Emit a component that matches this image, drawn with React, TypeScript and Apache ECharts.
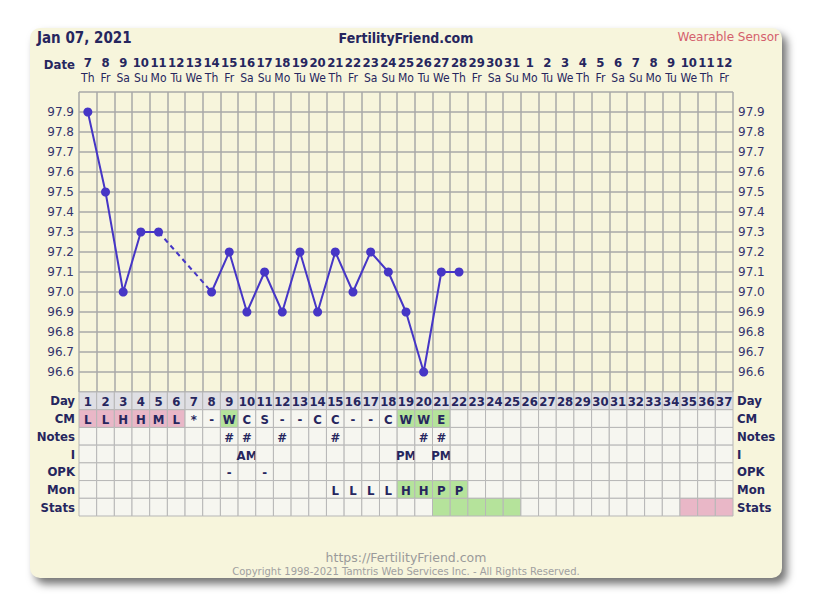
import React, { useEffect, useRef } from 'react';
import * as echarts from 'echarts';

// ---------- data ----------
const dateNums = ['7','8','9','10','11','12','13','14','15','16','17','18','19','20','21','22','23','24','25','26','27','28','29','30','31','1','2','3','4','5','6','7','8','9','10','11','12'];
const weekdays = ['Th','Fr','Sa','Su','Mo','Tu','We','Th','Fr','Sa','Su','Mo','Tu','We','Th','Fr','Sa','Su','Mo','Tu','We','Th','Fr','Sa','Su','Mo','Tu','We','Th','Fr','Sa','Su','Mo','Tu','We','Th','Fr'];
const cycleDays = ['1','2','3','4','5','6','7','8','9','10','11','12','13','14','15','16','17','18','19','20','21','22','23','24','25','26','27','28','29','30','31','32','33','34','35','36','37'];
const temps: (number | null)[] = [97.9, 97.5, 97.0, 97.3, 97.3, null, null, 97.0, 97.2, 96.9, 97.1, 96.9, 97.2, 96.9, 97.2, 97.0, 97.2, 97.1, 96.9, 96.6, 97.1, 97.1];
const yTicks = ['96.6','96.7','96.8','96.9','97.0','97.1','97.2','97.3','97.4','97.5','97.6','97.7','97.8','97.9'];

const rowNames = ['Day', 'CM', 'Notes', 'I', 'OPK', 'Mon', 'Stats'];
const cmText = ['L','L','H','H','M','L','*','-','W','C','S','-','-','C','C','-','-','C','W','W','E'];
const cmShade = ['P','P','P','P','P','P','','','G','','','','','','','','','','G','G','G'];
const notesText = ['','','','','','','','','#','#','','#','','','#','','','','','#','#'];
const intercourseText = ['','','','','','','','','','AM','','','','','','','','','PM','','PM'];
const opkText = ['','','','','','','','','-','','-'];
const monText = ['','','','','','','','','','','','','','','L','L','L','L','H','H','P','P'];
const monShade = ['','','','','','','','','','','','','','','','','','','G','G','G','G'];
const statsShade = ['','','','','','','','','','','','','','','','','','','','','G','G','G','G','G','','','','','','','','','','P','P','P'];

// ---------- style ----------
const FONT = "'DejaVu Sans Condensed', 'DejaVu Sans', Verdana, sans-serif";
const FONT_N = "'DejaVu Sans', Verdana, sans-serif";
const NAVY = '#26265e';
const LABEL = '#34346e';
const LINE = '#4636c6';
const GRIDC = '#a9a9a9';
const CARD = '#f7f5dc';
const SHADE: Record<string, string> = { P: '#e9b7c7', G: '#b5e39b' };

export default function App() {
  const ref = useRef<HTMLDivElement>(null);

  useEffect(() => {
    if (!ref.current) return;
    const chart = echarts.init(ref.current, undefined, { renderer: 'svg' });
    const n = cycleDays.length;

    const lineData = cycleDays.map((_, i) => (i < temps.length ? temps[i] : null));
    // dashed bridge over missing temperatures
    const bridge: (number | null)[] = cycleDays.map(() => null);
    let last = -1;
    lineData.forEach((v, i) => {
      if (v != null) {
        if (last >= 0 && i - last > 1) {
          bridge[last] = lineData[last];
          bridge[i] = v;
        }
        last = i;
      }
    });

    const rowsText: string[][] = [cycleDays, cmText, notesText, intercourseText, opkText, monText, []];
    const rowsShade: string[][] = [[], cmShade, [], [], [], monShade, statsShade];
    const cells: { text: string; fill: string }[] = [];
    const cellData: number[][] = [];
    rowNames.forEach((_, r) => {
      for (let d = 0; d < n; d++) {
        const t = rowsText[r][d] || '';
        const sh = rowsShade[r][d] || '';
        const fill = r === 0 ? '#dfdfe4' : sh ? SHADE[sh] : '#f6f6f0';
        cells.push({ text: t, fill });
        cellData.push([d, r]);
      }
    });

    const yLabelFmt = (v: number) => {
      const s = v.toFixed(1);
      return yTicks.indexOf(s) >= 0 ? s : '';
    };

    chart.setOption({
      animation: false,
      grid: [
        { left: 79, top: 92, width: 654, height: 300 },
        { left: 79, top: 392, width: 654, height: 124 },
      ],
      xAxis: [
        {
          type: 'category', gridIndex: 0, data: cycleDays, position: 'bottom',
          axisLine: { show: false }, axisTick: { show: false }, axisLabel: { show: false },
          splitLine: { show: true, interval: 0, lineStyle: { color: GRIDC, width: 1.5 } },
        },
        {
          type: 'category', gridIndex: 0, data: dateNums, position: 'top',
          axisLine: { show: false }, axisTick: { show: false }, splitLine: { show: false },
          axisLabel: {
            interval: 0, margin: 7,
            formatter: (v: string, i: number) => `{n|${v}}\n{w|${weekdays[i]}}`,
            rich: {
              n: { fontFamily: FONT, fontWeight: 'bold', fontSize: 13, color: NAVY, lineHeight: 15 },
              w: { fontFamily: FONT, fontSize: 12, color: NAVY, lineHeight: 15 },
            },
          },
        },
        {
          type: 'category', gridIndex: 1, data: cycleDays,
          axisLine: { show: false }, axisTick: { show: false }, axisLabel: { show: false }, splitLine: { show: false },
        },
      ],
      yAxis: [
        {
          type: 'value', gridIndex: 0, min: 96.5, max: 98.0, interval: 0.1, position: 'left',
          axisLine: { show: false }, axisTick: { show: false },
          axisLabel: { formatter: yLabelFmt, margin: 5, fontFamily: FONT_N, fontSize: 12, color: LABEL, showMinLabel: false, showMaxLabel: false },
          splitLine: { show: true, lineStyle: { color: GRIDC, width: 1.5 } },
        },
        {
          type: 'value', gridIndex: 0, min: 96.5, max: 98.0, interval: 0.1, position: 'right',
          axisLine: { show: false }, axisTick: { show: false },
          axisLabel: { formatter: yLabelFmt, margin: 5, fontFamily: FONT_N, fontSize: 12, color: LABEL, showMinLabel: false, showMaxLabel: false },
          splitLine: { show: false },
        },
        {
          type: 'category', gridIndex: 1, data: rowNames, inverse: true, position: 'left',
          axisLine: { show: false }, axisTick: { show: false }, splitLine: { show: false },
          axisLabel: { margin: 4, fontFamily: FONT, fontWeight: 'bold', fontSize: 13, color: NAVY },
        },
        {
          type: 'category', gridIndex: 1, data: rowNames, inverse: true, position: 'right',
          axisLine: { show: false }, axisTick: { show: false }, splitLine: { show: false },
          axisLabel: { margin: 4, fontFamily: FONT, fontWeight: 'bold', fontSize: 13, color: NAVY },
        },
      ],
      series: [
        {
          type: 'line', xAxisIndex: 0, yAxisIndex: 0, data: bridge, connectNulls: true,
          symbol: 'none', lineStyle: { color: LINE, width: 2, type: [5, 4] }, z: 3,
        },
        {
          type: 'line', xAxisIndex: 0, yAxisIndex: 0, data: lineData, connectNulls: false,
          symbol: 'circle', symbolSize: 9, lineStyle: { color: LINE, width: 2 }, itemStyle: { color: LINE }, z: 4,
        },
        {
          type: 'custom', xAxisIndex: 2, yAxisIndex: 2, data: cellData,
          renderItem: (params: any, api: any) => {
            const c = cells[params.dataIndex];
            const p = api.coord([api.value(0), api.value(1)]);
            const s = api.size([1, 1]);
            return {
              type: 'group',
              children: [
                {
                  type: 'rect',
                  shape: { x: p[0] - s[0] / 2, y: p[1] - s[1] / 2, width: s[0], height: s[1] },
                  style: { fill: c.fill, stroke: '#b7b7b7', lineWidth: 1 },
                },
                {
                  type: 'text', x: p[0], y: p[1] + 1,
                  style: { text: c.text, align: 'center', verticalAlign: 'middle', fill: NAVY, font: `bold 13px ${FONT}` },
                },
              ],
            };
          },
        },
      ],
      graphic: [
        { type: 'text', x: 37, y: 38, style: { text: 'Jan 07, 2021', font: `bold 15px ${FONT}`, fill: NAVY, align: 'left', verticalAlign: 'middle' } },
        { type: 'text', x: 406, y: 38, style: { text: 'FertilityFriend.com', font: `bold 14px ${FONT}`, fill: NAVY, align: 'center', verticalAlign: 'middle' } },
        { type: 'text', x: 779, y: 37, style: { text: 'Wearable Sensor', font: `12px ${FONT_N}`, fill: '#d4606c', align: 'right', verticalAlign: 'middle' } },
        { type: 'text', x: 75, y: 64, style: { text: 'Date', font: `bold 13px ${FONT}`, fill: NAVY, align: 'right', verticalAlign: 'middle' } },
        { type: 'text', x: 406, y: 557, style: { text: 'https://FertilityFriend.com', font: `12.5px ${FONT_N}`, fill: '#9a9a9a', align: 'center', verticalAlign: 'middle' } },
        { type: 'text', x: 406, y: 571, style: { text: 'Copyright 1998-2021 Tamtris Web Services Inc. - All Rights Reserved.', font: `10px ${FONT_N}`, fill: '#a0a0a0', align: 'center', verticalAlign: 'middle' } },
      ],
    });
    return () => chart.dispose();
  }, []);

  return (
    <div style={{ position: 'fixed', left: 0, top: 0, width: 828, height: 597, background: '#ffffff' }}>
      <div
        style={{
          position: 'absolute', left: 30, top: 28, width: 752, height: 550,
          background: CARD, borderRadius: 10, boxShadow: '5px 6px 9px rgba(0,0,0,0.55)',
        }}
      />
      <div ref={ref} style={{ position: 'absolute', left: 0, top: 0, width: 828, height: 597 }} />
    </div>
  );
}
